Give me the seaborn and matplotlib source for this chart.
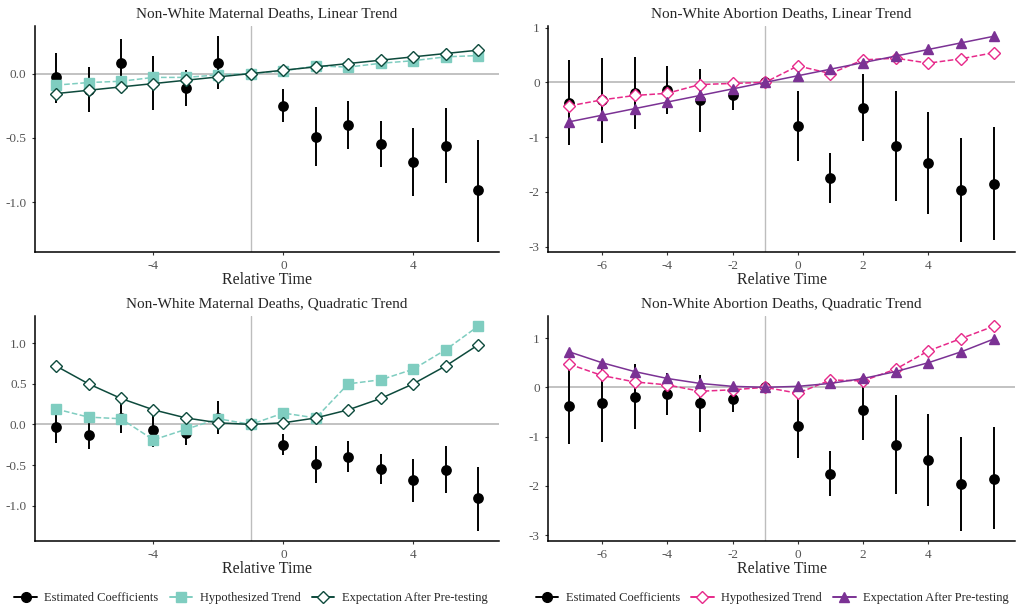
import numpy as np
import pandas as pd
import seaborn as sns
import matplotlib.pyplot as plt
from matplotlib.lines import Line2D
from matplotlib.ticker import FormatStrFormatter

# --- data ---
rel_time = [-7, -6, -5, -4, -3, -2, -1, 0, 1, 2, 3, 4, 5, 6]

# maternal deaths: event-study coefficients and 95% CI
mat_coef = [-0.03, -0.13, 0.08, -0.07, -0.11, 0.08, 0.0, -0.25, -0.49, -0.40, -0.55, -0.69, -0.56, -0.91]
mat_lo = [-0.23, -0.30, -0.11, -0.28, -0.25, -0.12, 0.0, -0.38, -0.72, -0.59, -0.73, -0.95, -0.85, -1.31]
mat_hi = [0.16, 0.05, 0.27, 0.14, 0.03, 0.29, 0.0, -0.12, -0.26, -0.21, -0.37, -0.42, -0.27, -0.52]
mat_hyp_lin = [-0.09, -0.07, -0.06, -0.03, -0.03, -0.01, 0.0, 0.02, 0.06, 0.05, 0.08, 0.10, 0.13, 0.14]
mat_exp_lin = [-0.156, -0.13, -0.104, -0.078, -0.052, -0.026, 0.0, 0.026, 0.052, 0.078, 0.104, 0.13, 0.156, 0.182]
mat_hyp_quad = [0.19, 0.09, 0.07, -0.19, -0.06, 0.07, 0.0, 0.14, 0.08, 0.50, 0.55, 0.68, 0.92, 1.21]
mat_exp_quad = [0.72, 0.50, 0.32, 0.18, 0.08, 0.02, 0.0, 0.02, 0.08, 0.18, 0.32, 0.50, 0.72, 0.98]

# abortion deaths
abo_coef = [-0.37, -0.32, -0.19, -0.14, -0.32, -0.23, 0.0, -0.79, -1.75, -0.46, -1.16, -1.48, -1.97, -1.85]
abo_lo = [-1.14, -1.10, -0.85, -0.57, -0.90, -0.51, 0.0, -1.43, -2.21, -1.07, -2.17, -2.41, -2.91, -2.88]
abo_hi = [0.41, 0.44, 0.47, 0.29, 0.24, 0.04, 0.0, -0.15, -1.29, 0.16, -0.15, -0.55, -1.01, -0.81]
abo_hyp_lin = [-0.43, -0.32, -0.24, -0.20, -0.04, -0.02, 0.0, 0.30, 0.16, 0.41, 0.44, 0.35, 0.43, 0.54]
abo_exp_lin = [-0.72, -0.60, -0.48, -0.36, -0.24, -0.12, 0.0, 0.12, 0.24, 0.36, 0.48, 0.60, 0.72, 0.84]
abo_hyp_quad = [0.47, 0.24, 0.11, 0.05, -0.08, -0.05, 0.0, -0.12, 0.15, 0.13, 0.37, 0.74, 0.99, 1.24]
abo_exp_quad = [0.72, 0.50, 0.32, 0.18, 0.08, 0.02, 0.0, 0.02, 0.08, 0.18, 0.32, 0.50, 0.72, 0.98]

legend_labels = ["Estimated Coefficients", "Hypothesized Trend", "Expectation After Pre-testing"]

# --- style ---
sns.set_style("ticks")
plt.rcParams.update({
    "font.family": ["Liberation Serif", "DejaVu Serif"],
    "axes.unicode_minus": False,
    "axes.edgecolor": "black",
    "axes.linewidth": 1.1,
    "xtick.color": "#333333",
    "ytick.color": "#333333",
    "xtick.labelcolor": "#555555",
    "ytick.labelcolor": "#555555",
    "xtick.labelsize": 9.5,
    "ytick.labelsize": 9.5,
    "xtick.major.size": 2.5,
    "ytick.major.size": 2.5,
})

mat_style = {"hyp": dict(color="#7fcdc0", marker="s", mfc="#7fcdc0", mec="#7fcdc0", ms=6.5),
             "exp": dict(color="#0d4a3c", marker="D", mfc="white", mec="#0d4a3c", ms=6.2)}
abo_style = {"hyp": dict(color="#e7298a", marker="D", mfc="white", mec="#e7298a", ms=6.2),
             "exp": dict(color="#7b3294", marker="^", mfc="#7b3294", mec="#7b3294", ms=7.5)}

panels = [
    ("Non-White Maternal Deaths, Linear Trend", mat_coef, mat_lo, mat_hi, mat_hyp_lin, mat_exp_lin, mat_style,
     [0.0344, 0.588, 0.457, 0.3695], [-4, 0, 4], [-1.0, -0.5, 0.0], "%.1f"),
    ("Non-White Abortion Deaths, Linear Trend", abo_coef, abo_lo, abo_hi, abo_hyp_lin, abo_exp_lin, abo_style,
     [0.5394, 0.588, 0.4596, 0.3695], [-6, -4, -2, 0, 2, 4], [-3, -2, -1, 0, 1], "%d"),
    ("Non-White Maternal Deaths, Quadratic Trend", mat_coef, mat_lo, mat_hi, mat_hyp_quad, mat_exp_quad, mat_style,
     [0.0344, 0.116, 0.457, 0.3677], [-4, 0, 4], [-1.0, -0.5, 0.0, 0.5, 1.0], "%.1f"),
    ("Non-White Abortion Deaths, Quadratic Trend", abo_coef, abo_lo, abo_hi, abo_hyp_quad, abo_exp_quad, abo_style,
     [0.5394, 0.116, 0.4596, 0.3677], [-6, -4, -2, 0, 2, 4], [-3, -2, -1, 0, 1], "%d"),
]

fig = plt.figure(figsize=(10.16, 6.12), dpi=100)

for title, coef, lo, hi, hyp, exp, style, rect, xt, yt, fmt in panels:
    ax = fig.add_axes(rect)
    df = pd.DataFrame({"t": rel_time, "coef": coef, "lo": lo, "hi": hi, "hyp": hyp, "exp": exp})

    ax.axhline(0, color="#bdbdbd", lw=1.3, zorder=0)
    ax.axvline(-1, color="#bdbdbd", lw=1.0, zorder=0)

    ax.vlines(df["t"], df["lo"], df["hi"], color="black", lw=1.4, zorder=2)
    sns.scatterplot(data=df, x="t", y="coef", color="black", s=60, linewidth=0, ax=ax, zorder=3)

    h = style["hyp"]
    sns.lineplot(data=df, x="t", y="hyp", ax=ax, color=h["color"], linestyle="--", lw=1.1,
                 marker=h["marker"], markersize=h["ms"], markerfacecolor=h["mfc"],
                 markeredgecolor=h["mec"], markeredgewidth=1.0, zorder=4)
    e = style["exp"]
    sns.lineplot(data=df, x="t", y="exp", ax=ax, color=e["color"], linestyle="-", lw=1.1,
                 marker=e["marker"], markersize=e["ms"], markerfacecolor=e["mfc"],
                 markeredgecolor=e["mec"], markeredgewidth=1.0, zorder=5)

    ax.set_title(title, fontsize=11, pad=6)
    ax.set_xlabel("Relative Time", fontsize=11.5, labelpad=0)
    ax.set_ylabel("")
    ax.set_xticks(xt)
    ax.set_yticks(yt)
    ax.yaxis.set_major_formatter(FormatStrFormatter(fmt))
    ax.margins(x=0.05, y=0.05)
    sns.despine(ax=ax)

# --- legends under each column ---
for cx, style in [(0.247, mat_style), (0.76, abo_style)]:
    handles = [Line2D([], [], color="black", marker="o", ms=7, lw=1.4)]
    for key in ["hyp", "exp"]:
        s = style[key]
        handles.append(Line2D([], [], color=s["color"], marker=s["marker"], ms=s["ms"],
                              mfc=s["mfc"], mec=s["mec"], lw=1.4))
    fig.legend(handles, legend_labels, loc="center", bbox_to_anchor=(cx, 0.023), ncol=3,
               frameon=False, fontsize=9, handlelength=1.8, columnspacing=0.9, handletextpad=0.6)

fig.savefig("out.png", dpi=100)
